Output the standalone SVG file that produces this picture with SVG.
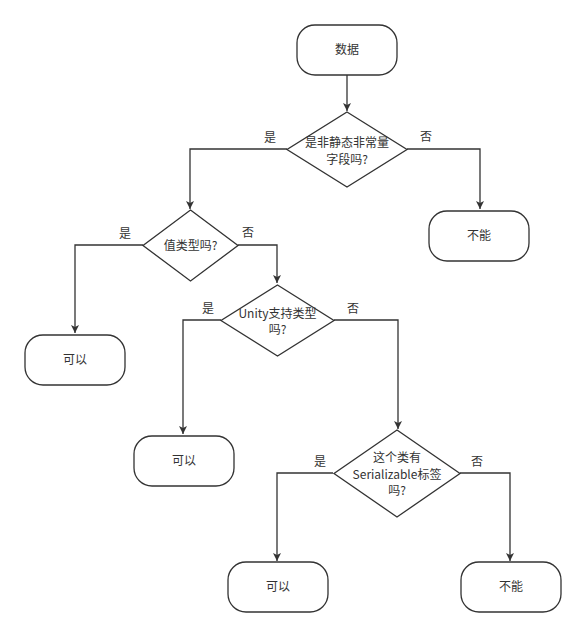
<svg xmlns="http://www.w3.org/2000/svg" width="585" height="637" viewBox="0 0 585 637">
<defs>
<style>
.n{fill:#fff;stroke:#333;stroke-width:1.3}
.t{font-family:"Microsoft YaHei","Noto Sans CJK SC",sans-serif;font-size:12px;fill:#333;text-anchor:middle}
.e{fill:none;stroke:#333;stroke-width:1.3}
</style>
<marker id="a" markerWidth="10" markerHeight="10" refX="8" refY="4" orient="auto" markerUnits="userSpaceOnUse">
<path d="M0,0 L8,4 L0,8 L2,4 Z" fill="#333"/>
</marker>
</defs>
<rect width="585" height="637" fill="#fff"/>
<g id="edges">
<path class="e" d="M347,75 V111" marker-end="url(#a)"/>
<path class="e" d="M287,149 H190 V209" marker-end="url(#a)"/>
<path class="e" d="M407,149 H480 V209" marker-end="url(#a)"/>
<path class="e" d="M143,245 H75 V333" marker-end="url(#a)"/>
<path class="e" d="M238,245 H277 V283" marker-end="url(#a)"/>
<path class="e" d="M221,320 H183 V434" marker-end="url(#a)"/>
<path class="e" d="M334,320 H398 V429" marker-end="url(#a)"/>
<path class="e" d="M333,473 H277 V561" marker-end="url(#a)"/>
<path class="e" d="M460,473 H510 V561" marker-end="url(#a)"/>
<text class="t" x="270" y="142">是</text>
<text class="t" x="426" y="141">否</text>
<text class="t" x="125" y="238">是</text>
<text class="t" x="248" y="237">否</text>
<text class="t" x="208" y="313">是</text>
<text class="t" x="353" y="313">否</text>
<text class="t" x="320" y="466">是</text>
<text class="t" x="477" y="466">否</text>
</g>
<g id="start">
<rect class="n" x="297" y="25" width="100" height="50" rx="18"/>
<text class="t" x="347" y="54">数据</text>
</g>
<g id="d1">
<path class="n" d="M347,112 L407,149.5 L347,187 L287,149.5 Z"/>
<text class="t" x="347" y="147">是非静态非常量</text>
<text class="t" x="347" y="164">字段吗?</text>
</g>
<g id="no1">
<rect class="n" x="429" y="211" width="100" height="50" rx="18"/>
<text class="t" x="479" y="240">不能</text>
</g>
<g id="d2">
<path class="n" d="M190.5,210 L238,245.5 L190.5,281 L143,245.5 Z"/>
<text class="t" x="190.5" y="250">值类型吗?</text>
</g>
<g id="yes1">
<rect class="n" x="25" y="335" width="100" height="50" rx="18"/>
<text class="t" x="75" y="364">可以</text>
</g>
<g id="d3">
<path class="n" d="M277.5,285 L334,320.5 L277.5,356 L221,320.5 Z"/>
<text class="t" x="277.5" y="318">Unity支持类型</text>
<text class="t" x="277.5" y="334">吗?</text>
</g>
<g id="yes2">
<rect class="n" x="134" y="436" width="100" height="50" rx="18"/>
<text class="t" x="184" y="465">可以</text>
</g>
<g id="d4">
<path class="n" d="M397,430 L460,473.5 L397,517 L334,473.5 Z"/>
<text class="t" x="397" y="462">这个类有</text>
<text class="t" x="397" y="479">Serializable标签</text>
<text class="t" x="397" y="495">吗?</text>
</g>
<g id="yes3">
<rect class="n" x="228" y="562" width="100" height="50" rx="18"/>
<text class="t" x="278" y="591">可以</text>
</g>
<g id="no2">
<rect class="n" x="461" y="562" width="100" height="50" rx="18"/>
<text class="t" x="511" y="591">不能</text>
</g>
</svg>
